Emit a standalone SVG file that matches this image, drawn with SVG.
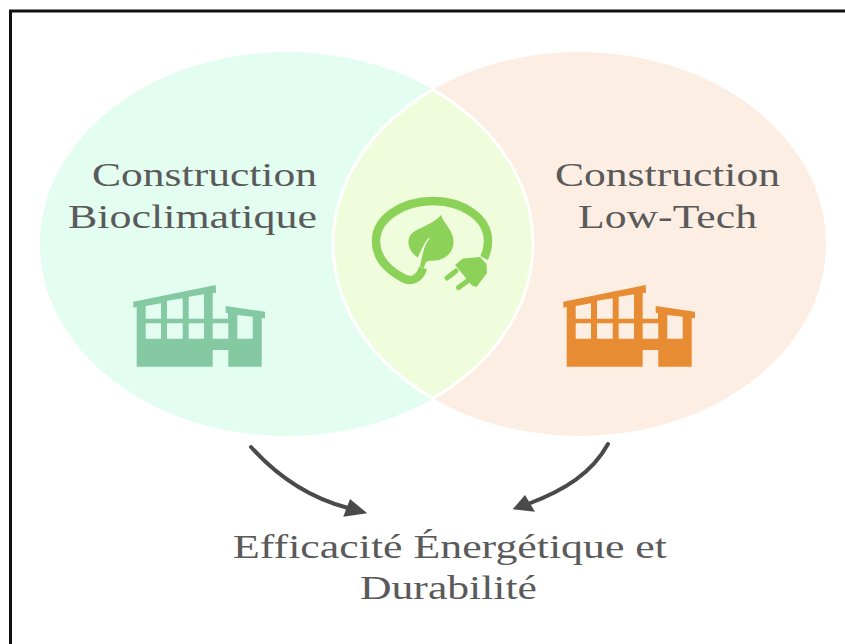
<svg xmlns="http://www.w3.org/2000/svg" width="845" height="644" viewBox="0 0 845 644">
<style>
.t{font-family:"Liberation Serif","DejaVu Serif",serif;font-size:34px;fill:#5a5a5a;text-anchor:middle}
.c{fill:none;stroke:#4a4a4a;stroke-width:4;stroke-linecap:round}
.h{fill:#4a4a4a}
.g{fill:#8cd258}
</style>
<defs>
<clipPath id="lens"><ellipse cx="286.500" cy="244" rx="246.500" ry="192"/></clipPath>
<clipPath id="lens2"><ellipse cx="579.500" cy="244" rx="246.500" ry="192"/></clipPath>
<path id="bld" fill-rule="evenodd" d="M133.300 301.700L215.700 285L216 292.700L212.700 293.300V318.700H228V313L225.700 313V306L265 311.700V318.300L261.700 318V366.700H228.300V350H212.700V366.700H136.700V307L133.300 307.700ZM145.700 306V318.700H161V303.300ZM167 300.700V318.700H182.700V298.300ZM188.700 296.700V318.700H204V294.300ZM145.700 323.300V338.700H161V323.300ZM167 323.300V338.700H182.700V323.300ZM188.700 323.300V338.700H204V323.300ZM212.700 323.300V338.700H228.300V323.300ZM237.300 315V338.700H252.700V316.700Z"/>
</defs>
<rect id="frame" x="10.500" y="11" width="840" height="640" fill="#fff" stroke="#111" stroke-width="3"/>
<g id="bioclimatique">
<ellipse cx="286.500" cy="244" rx="246.500" ry="192" fill="#e3fdf1"/>
<text class="t" x="204.500" y="186" textLength="225" lengthAdjust="spacingAndGlyphs">Construction</text>
<text class="t" x="192.500" y="228" textLength="249" lengthAdjust="spacingAndGlyphs">Bioclimatique</text>
<use href="#bld" fill="#84c9a2"/>
</g>
<g id="lowtech">
<ellipse cx="579.500" cy="244" rx="246.500" ry="192" fill="#fdeee3"/>
<text class="t" x="667.500" y="186" textLength="225" lengthAdjust="spacingAndGlyphs">Construction</text>
<text class="t" x="667.500" y="228" textLength="179" lengthAdjust="spacingAndGlyphs">Low-Tech</text>
<use href="#bld" x="430" fill="#e88c34"/>
</g>
<g id="overlap">
<ellipse cx="579.500" cy="244" rx="246.500" ry="192" fill="#f0fddc" clip-path="url(#lens)"/>
<ellipse cx="579.500" cy="244" rx="246.500" ry="192" fill="none" stroke="#fff" stroke-width="3" clip-path="url(#lens)"/>
<ellipse cx="286.500" cy="244" rx="246.500" ry="192" fill="none" stroke="#fff" stroke-width="3" clip-path="url(#lens2)"/>
<g id="icon">
<path d="M484 258C488 250 488 245 488 241C488 218 463 201 433 201C403 201 376 218 376 241C376 258 388 270 403 278C412 283 420 278 423 268" fill="none" stroke="#8cd258" stroke-width="8.500"/>
<path class="g" d="M441 215C444 224 453 230 453.500 241C454 254 443 261 432 260.700C427 260.500 425 262 424 268L420 267C422 255 425 243 430 238C428 237 424 243 418 257.500C410 253 406 243 410 236C414 228 432 226 441 215Z"/>
<path class="g" d="M455 265L463 258.500L480 257L486.500 264L487 273L476.500 287L472 285.500Z"/>
<path d="M447 278L456 271M458.500 287.500L469 280" stroke="#8cd258" stroke-width="5" stroke-linecap="round" fill="none"/>
</g>
</g>
<g id="connectors">
<path class="c" d="M251 447C277 476 310 498 348 508"/>
<path class="h" d="M367.300 513.300L343.300 516.700L350 499Z"/>
<path class="c" d="M608 444C592 473 565 490 528 504"/>
<path class="h" d="M512.700 509.300L535 511.700L525 495Z"/>
</g>
<g id="result">
<text class="t" x="450" y="558" textLength="434" lengthAdjust="spacingAndGlyphs">Efficacité Énergétique et</text>
<text class="t" x="448.500" y="599" textLength="177" lengthAdjust="spacingAndGlyphs">Durabilité</text>
</g>
</svg>
